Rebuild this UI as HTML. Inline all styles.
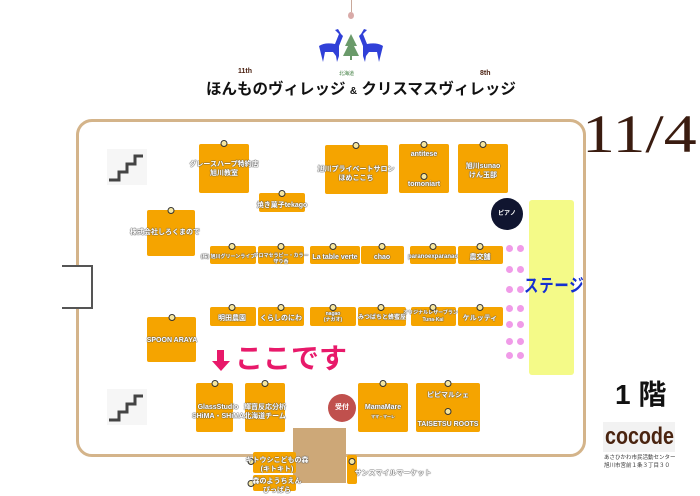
<!DOCTYPE html>
<html><head><meta charset="utf-8"><style>
*{margin:0;padding:0;box-sizing:border-box}
body{width:700px;height:496px;background:#fff;position:relative;overflow:hidden;font-family:"Liberation Sans","Noto Sans CJK JP",sans-serif}
.a{position:absolute}
.b{position:absolute;background:#f5a400;border-radius:2px}
.t{position:absolute;white-space:nowrap;color:#fff;font-size:7px;font-weight:bold;text-align:center;line-height:9px;text-shadow:0 0 1px #555,0 0 1px #555,0 0 1px #555;transform:translateX(-50%)}
.n{position:absolute;width:7px;height:7px;border-radius:50%;background:#f5e6a0;border:1px solid #333;transform:translateX(-50%)}
.dot{position:absolute;width:7px;height:7px;border-radius:50%;background:#f09be8}
</style></head><body>
<!-- header -->
<div class="a" style="left:351px;top:0;width:1px;height:12px;background:#c9a89a"></div>
<div class="a" style="left:348px;top:12px;width:6px;height:7px;border-radius:50%;background:#d9aaa8"></div>
<svg class="a" style="left:315px;top:26px" width="72" height="38" viewBox="0 0 72 38">
<g fill="#3040d8"><path d="M4 20 Q10 16 20 18 L24 8 L20 4 L23 3 L26 8 L28 10 L24 20 L24 30 L22 36 L21 30 L18 26 L10 26 L8 36 L6 28 Z"/>
<path d="M68 20 Q62 16 52 18 L48 8 L52 4 L49 3 L46 8 L44 10 L48 20 L48 30 L50 36 L51 30 L54 26 L62 26 L64 36 L66 28 Z"/></g>
<path d="M36 8 L42 20 L39 20 L44 30 L28 30 L33 20 L30 20 Z" fill="#6a9a6a"/><rect x="35" y="30" width="2" height="4" fill="#6a9a6a"/>
</svg>
<div class="a" style="left:339px;top:70px;font-size:5px;color:#3a7a3a">北海道</div>
<div class="a" style="left:238px;top:68px;font-size:7px;font-weight:bold;color:#4a2010">11th</div>
<div class="a" style="left:480px;top:70px;font-size:7px;font-weight:bold;color:#4a2010">8th</div>
<div class="a" style="left:206px;top:77px;font-size:15.5px;font-weight:bold;color:#111;white-space:nowrap">ほんものヴィレッジ <span style="font-size:10px">&amp;</span> クリスマスヴィレッジ</div>
<!-- room -->
<div class="a" style="left:76px;top:119px;width:510px;height:338px;border:3px solid #d4b48a;border-radius:16px"></div>
<div class="a" style="left:62px;top:265px;width:31px;height:44px;border:2px solid #555;border-left:none;background:#fff"></div>
<svg class="a" style="left:107px;top:149px" width="40" height="36"><rect width="40" height="36" fill="#f6f6f6"/><path d="M2 31 H12 V23 H20 V15 H28 V7 H36" fill="none" stroke="#444" stroke-width="3"/></svg>
<svg class="a" style="left:107px;top:389px" width="40" height="36"><rect width="40" height="36" fill="#f6f6f6"/><path d="M2 31 H12 V23 H20 V15 H28 V7 H36" fill="none" stroke="#444" stroke-width="3"/></svg>
<!-- top boxes -->
<div class="b" style="left:199px;top:144px;width:50px;height:49px"></div><div class="n" style="left:224px;top:140px"></div><div class="t" style="left:224px;top:160px">グレースハープ特約店<br>旭川教室</div>
<div class="b" style="left:259px;top:193px;width:46px;height:19px"></div><div class="n" style="left:282px;top:190px"></div><div class="t" style="left:282px;top:201px">焼き菓子tekago</div>
<div class="b" style="left:325px;top:145px;width:63px;height:49px"></div><div class="n" style="left:356px;top:142px"></div><div class="t" style="left:356px;top:165px">旭川プライベートサロン<br>ほめここち</div>
<div class="b" style="left:399px;top:144px;width:50px;height:49px"></div><div class="n" style="left:424px;top:141px"></div><div class="t" style="left:424px;top:150px">antitese</div><div class="n" style="left:424px;top:173px"></div><div class="t" style="left:424px;top:180px">tomoniart</div>
<div class="b" style="left:458px;top:144px;width:50px;height:49px"></div><div class="n" style="left:483px;top:141px"></div><div class="t" style="left:483px;top:162px">旭川sunao<br>けん玉部</div>
<div class="b" style="left:147px;top:210px;width:48px;height:46px"></div><div class="n" style="left:171px;top:207px"></div><div class="t" style="left:165px;top:228px">株式会社しろくまので</div>
<!-- row 1 -->
<div class="b" style="left:210px;top:246px;width:46px;height:18px"></div><div class="n" style="left:232px;top:243px"></div><div class="t" style="left:228px;top:253px;font-size:5px">(株) 旭川グリーンライフ</div>
<div class="b" style="left:258px;top:246px;width:46px;height:18px"></div><div class="n" style="left:281px;top:243px"></div><div class="t" style="left:281px;top:253px;font-size:5px;line-height:6px">アロマセラピー・カラー<br>守り香</div>
<div class="b" style="left:310px;top:246px;width:50px;height:18px"></div><div class="n" style="left:333px;top:243px"></div><div class="t" style="left:335px;top:253px">La table verte</div>
<div class="b" style="left:361px;top:246px;width:43px;height:18px"></div><div class="n" style="left:382px;top:243px"></div><div class="t" style="left:382px;top:253px">chao</div>
<div class="b" style="left:410px;top:246px;width:46px;height:18px"></div><div class="n" style="left:433px;top:243px"></div><div class="t" style="left:433px;top:253px;font-size:6px">paranoexparanao</div>
<div class="b" style="left:458px;top:246px;width:45px;height:18px"></div><div class="n" style="left:480px;top:243px"></div><div class="t" style="left:480px;top:253px">農交舗</div>
<div class="a" style="left:491px;top:198px;width:32px;height:32px;border-radius:50%;background:#101530;color:#fff;font-size:6px;font-weight:bold;text-align:center;line-height:32px">ピアノ</div>
<!-- row 2 -->
<div class="b" style="left:210px;top:307px;width:46px;height:19px"></div><div class="n" style="left:232px;top:304px"></div><div class="t" style="left:232px;top:314px">明田農園</div>
<div class="b" style="left:258px;top:307px;width:46px;height:19px"></div><div class="n" style="left:281px;top:304px"></div><div class="t" style="left:281px;top:314px">くらしのにわ</div>
<div class="b" style="left:310px;top:307px;width:46px;height:19px"></div><div class="n" style="left:333px;top:304px"></div><div class="t" style="left:333px;top:311px;font-size:5px;line-height:6px">nagao<br>(ナガオ)</div>
<div class="b" style="left:358px;top:307px;width:48px;height:19px"></div><div class="n" style="left:381px;top:304px"></div><div class="t" style="left:382px;top:314px;font-size:6px">みつばちと蜂蜜屋</div>
<div class="b" style="left:411px;top:307px;width:45px;height:19px"></div><div class="n" style="left:433px;top:304px"></div><div class="t" style="left:433px;top:310px;font-size:5px;line-height:7px">オリジナルレザーブランド<br>Tuna-Kai</div>
<div class="b" style="left:458px;top:307px;width:45px;height:19px"></div><div class="n" style="left:480px;top:304px"></div><div class="t" style="left:480px;top:314px">ケルッティ</div>
<div class="b" style="left:147px;top:317px;width:49px;height:45px"></div><div class="n" style="left:172px;top:314px"></div><div class="t" style="left:172px;top:336px">SPOON ARAYA</div>
<!-- here -->
<svg class="a" style="left:211px;top:350px" width="20" height="22"><rect x="6" y="0" width="7" height="12" fill="#e8196a"/><path d="M1 11 H19 L10 21 Z" fill="#e8196a"/></svg>
<div class="a" style="left:235px;top:343px;font-size:28px;font-weight:bold;color:#e8196a;line-height:32px;white-space:nowrap">ここです</div>
<!-- bottom -->
<div class="b" style="left:196px;top:383px;width:37px;height:49px"></div><div class="n" style="left:215px;top:380px"></div><div class="t" style="left:218px;top:403px">GlassStudio<br>SHiMA・SHiMA</div>
<div class="b" style="left:245px;top:383px;width:40px;height:49px"></div><div class="n" style="left:265px;top:380px"></div><div class="t" style="left:265px;top:403px">輝寶反応分析<br>北海道チーム</div>
<div class="a" style="left:328px;top:394px;width:28px;height:28px;border-radius:50%;background:#c0504d;color:#fff;font-size:7px;font-weight:bold;text-align:center;line-height:28px">受付</div>
<div class="b" style="left:358px;top:383px;width:50px;height:49px"></div><div class="n" style="left:383px;top:380px"></div><div class="t" style="left:383px;top:403px">MamaMare<br><span style="font-size:4px">ママ・マーレ</span></div>
<div class="b" style="left:416px;top:383px;width:64px;height:49px"></div><div class="n" style="left:448px;top:380px"></div><div class="t" style="left:448px;top:391px">ピピマルシェ</div><div class="n" style="left:448px;top:408px"></div><div class="t" style="left:448px;top:420px">TAISETSU ROOTS</div>
<div class="a" style="left:293px;top:428px;width:53px;height:55px;background:#cda878"></div>
<div class="b" style="left:253px;top:452px;width:43px;height:21px"></div><div class="n" style="left:251px;top:458px"></div><div class="t" style="left:277px;top:456px">キトウシこどもの森<br>(キトキト)</div>
<div class="b" style="left:253px;top:475px;width:43px;height:16px"></div><div class="n" style="left:251px;top:480px"></div><div class="t" style="left:277px;top:477px">森のようちえん<br>ぴっぱら</div>
<div class="b" style="left:347px;top:455px;width:10px;height:29px"></div><div class="n" style="left:352px;top:458px"></div><div class="t" style="left:393px;top:469px">サンスマイルマーケット</div>
<!-- stage -->
<div class="a" style="left:529px;top:200px;width:45px;height:175px;background:#f4fa88;border-radius:3px"></div>
<div class="a" style="left:524px;top:272px;font-size:18px;font-weight:bold;color:#1530d0;white-space:nowrap;letter-spacing:1px;transform:scaleX(0.8);transform-origin:left">ステージ</div>
<div class="dot" style="left:506px;top:245px"></div><div class="dot" style="left:517px;top:245px"></div>
<div class="dot" style="left:506px;top:266px"></div><div class="dot" style="left:517px;top:266px"></div>
<div class="dot" style="left:506px;top:286px"></div><div class="dot" style="left:517px;top:286px"></div>
<div class="dot" style="left:506px;top:305px"></div><div class="dot" style="left:517px;top:305px"></div>
<div class="dot" style="left:506px;top:321px"></div><div class="dot" style="left:517px;top:321px"></div>
<div class="dot" style="left:506px;top:338px"></div><div class="dot" style="left:517px;top:338px"></div>
<div class="dot" style="left:506px;top:352px"></div><div class="dot" style="left:517px;top:352px"></div>
<!-- right -->
<div class="a" style="left:582px;top:104px;font-family:'Liberation Serif',serif;font-size:54px;color:#3a1c10;line-height:60px;transform:scaleX(1.22);transform-origin:left">11/4</div>
<div class="a" style="left:615px;top:378px;font-size:28px;font-weight:bold;color:#111;line-height:34px;white-space:nowrap">1 階</div>
<div class="a" style="left:603px;top:422px;width:72px;height:30px;background:#f2f2f2"></div>
<div class="a" style="left:605px;top:422px;color:#4a2410;font-size:24px;font-weight:bold;line-height:30px;transform:scaleX(0.82);transform-origin:left;white-space:nowrap">cocode</div>
<div class="a" style="left:604px;top:454px;font-size:5.5px;color:#333;white-space:nowrap;line-height:8px">あさひかわ市民活動センター<br>旭川市宮前１条３丁目３０</div>
</body></html>
